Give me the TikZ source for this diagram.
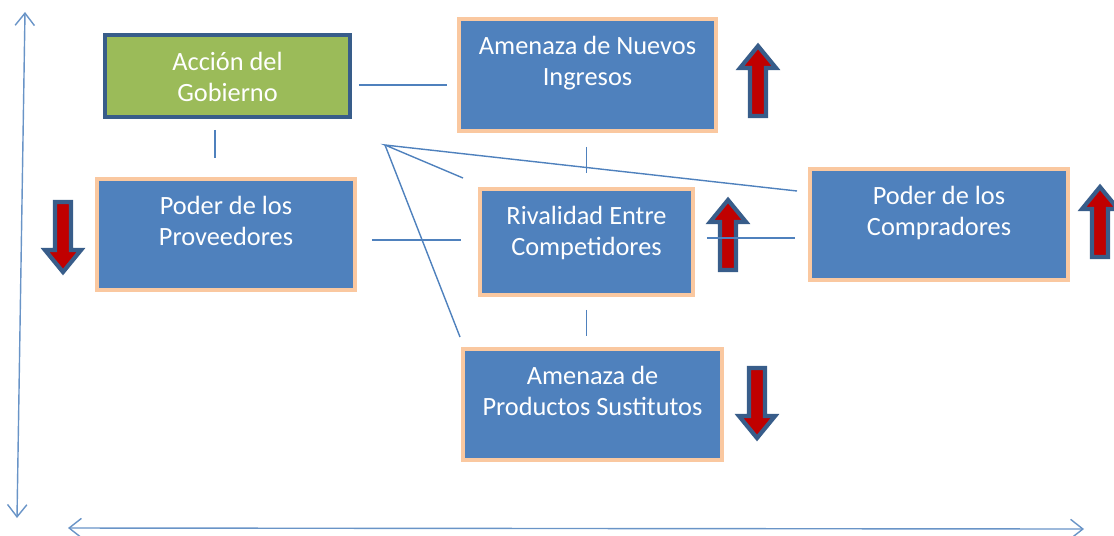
\documentclass[tikz,border=0pt]{standalone}
\usepackage{fontspec}
\setmainfont{Carlito}
\usetikzlibrary{arrows.meta,positioning}
\definecolor{boxblue}{HTML}{4F81BD}
\definecolor{boxgreen}{HTML}{9BBB59}
\definecolor{darkblue}{HTML}{385D8A}
\definecolor{peach}{HTML}{FAC8A0}
\definecolor{arrred}{HTML}{C00000}
\begin{document}
\begin{tikzpicture}[x=0.02cm,y=-0.02cm,
  force/.style={draw=peach,line width=2.2pt,fill=boxblue,inner sep=0pt},
  gov/.style={draw=darkblue,line width=2.2pt,fill=boxgreen,inner sep=0pt},
  txt/.style={text=white,align=center,inner sep=0pt,font=\fontsize{15}{17.6}\selectfont},
  link/.style={draw=boxblue,line width=0.8pt},
  axis/.style={draw=boxblue!85,line width=0.8pt,<->,>={Straight Barb[length=7pt,width=11pt]}},
  uparr/.pic={\filldraw[fill=arrred,draw=darkblue,line width=2.4pt,line join=miter]
    (-8,35) -- (8,35) -- (8,-13) -- (18,-13) -- (0,-35) -- (-18,-13) -- (-8,-13) -- cycle;},
  downarr/.pic={\filldraw[fill=arrred,draw=darkblue,line width=2.4pt,line join=miter]
    (-8,-35) -- (8,-35) -- (8,13) -- (18,13) -- (0,35) -- (-18,13) -- (-8,13) -- cycle;}]
\useasboundingbox (0,0) rectangle (1114,535);
\clip (0,0) rectangle (1114,535);
% axes
\coordinate (vtop) at (25,12);
\coordinate (vbot) at (17,518);
\coordinate (hleft) at (68,528);
\coordinate (hright) at (1084,529);
\draw[axis] (vbot) -- (vtop);
\draw[axis] (hleft) -- (hright);
% boxes
\node[gov,minimum width=4.9cm,minimum height=1.64cm] (gob) at (227.5,76) {};
\node[force,minimum width=5.14cm,minimum height=2.24cm] (nue) at (587.5,75) {};
\node[force,minimum width=5.16cm,minimum height=2.22cm] (pro) at (226,234.5) {};
\node[force,minimum width=4.26cm,minimum height=2.12cm] (riv) at (586.5,242) {};
\node[force,minimum width=5.16cm,minimum height=2.22cm] (com) at (939,224.5) {};
\node[force,minimum width=5.18cm,minimum height=2.22cm] (sus) at (592.5,404.5) {};
% texts
\node[txt,below=0.38cm of gob.north] (gobt) {Acción del\\Gobierno};
\node[txt,below=0.38cm of nue.north] (nuet) {Amenaza de Nuevos\\Ingresos};
\node[txt,below=0.38cm of pro.north] (prot) {Poder de los\\Proveedores};
\node[txt,below=0.38cm of riv.north] (rivt) {Rivalidad Entre\\Competidores};
\node[txt,below=0.38cm of com.north] (comt) {Poder de los\\Compradores};
\node[txt,below=0.38cm of sus.north] (sust) {Amenaza de\\Productos Sustitutos};
% block arrows
\pic at (758,81) {uparr};
\pic at (63,237) {downarr};
\pic at (728,235) {uparr};
\pic at (1100,222) {uparr};
\pic at (757,403) {downarr};
% links
\draw[link,shorten <=4pt,shorten >=5.7pt] ([yshift=-0.18cm]gob.east) -- ([yshift=-0.18cm]gob.east -| nue.west);
\draw[link,shorten <=6.2pt,shorten >=10.8pt] ([xshift=-0.25cm]gob.south) -- ([xshift=-0.25cm]gob.south |- pro.north);
\draw[link,shorten <=7.9pt,shorten >=7.9pt] (riv.north |- nue.south) -- (riv.north);
\draw[link,shorten <=8.5pt,shorten >=9.6pt] ([yshift=-0.11cm]pro.east) -- ([yshift=-0.11cm]pro.east -| riv.west);
\draw[link,shorten <=6.8pt,shorten >=7.4pt] ([yshift=0.08cm]riv.east) -- ([yshift=0.08cm]riv.east -| com.west);
\draw[link,shorten <=7.4pt,shorten >=6.2pt] (riv.south) -- (riv.south |- sus.north);
% fan
\coordinate (hub) at (385,145);
\coordinate (hubr) at (463,178);
\coordinate (hubc) at (797,191);
\coordinate (hubs) at (460,337);
\draw[link] (hubr) -- (hub) -- (hubc);
\draw[link] (hub) -- (hubs);
\end{tikzpicture}
\end{document}
